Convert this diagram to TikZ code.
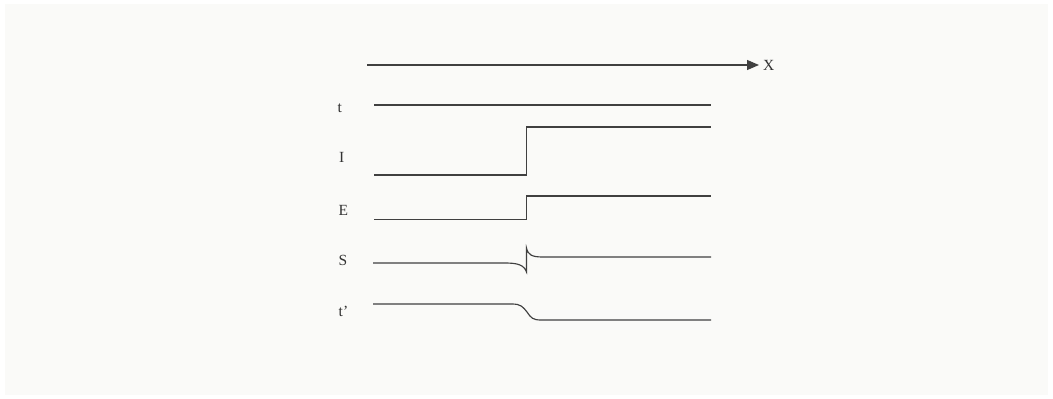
\documentclass[tikz,border=0pt]{standalone}
\usepackage{fontspec}
\setmainfont{Liberation Serif}
\usetikzlibrary{arrows.meta}
\definecolor{bgc}{HTML}{FAFAF8}
\definecolor{linec}{HTML}{404040}
\definecolor{textc}{HTML}{333333}
\begin{document}
\begin{tikzpicture}[x=1pt,y=-1pt,
  wave/.style={draw=linec,line width=1.15pt},
  lbl/.style={anchor=base west,inner sep=0pt,text=textc,font=\fontsize{15.5}{18}\selectfont}]
\useasboundingbox (0,0) rectangle (1053,399);
\fill[white] (0,0) rectangle (1053,399);
\fill[bgc] (5,4) rectangle (1048,395);
% axis
\coordinate (ax0) at (367,65);
\coordinate (ax1) at (759,65);
\draw[wave,-{Triangle[length=12pt,width=10pt]}] (ax0) -- (ax1);
\node[lbl] (X) at (763,70.5) {X};
% labels
\node[lbl] (lt) at (337.5,112.5) {t};
\node[lbl] (lI) at (339,162) {I};
\node[lbl] (lE) at (338.5,215.5) {E};
\node[lbl] (lS) at (338.5,265.5) {S};
\node[lbl] (ltp) at (338.5,316.5) {t’};
% t
\draw[wave] (374,105) -- (711,105);
% I
\draw[wave] (374,175) -- (526.5,175) -- (526.5,127) -- (711,127);
% E
\draw[wave] (374,219.5) -- (526.5,219.5) -- (526.5,196) -- (711,196);
% S
\draw[wave] (373,263) -- (505,263) .. controls (518,263) and (524,265) .. (526.5,272)
  -- (526.5,248) .. controls (528,255) and (532,257) .. (543,257) -- (711,257);
% t'
\draw[wave] (373,304) -- (512,304) .. controls (521,304) and (523,307) .. (527,312)
  .. controls (531,318) and (533,320) .. (541,320) -- (711,320);
\end{tikzpicture}
\end{document}
